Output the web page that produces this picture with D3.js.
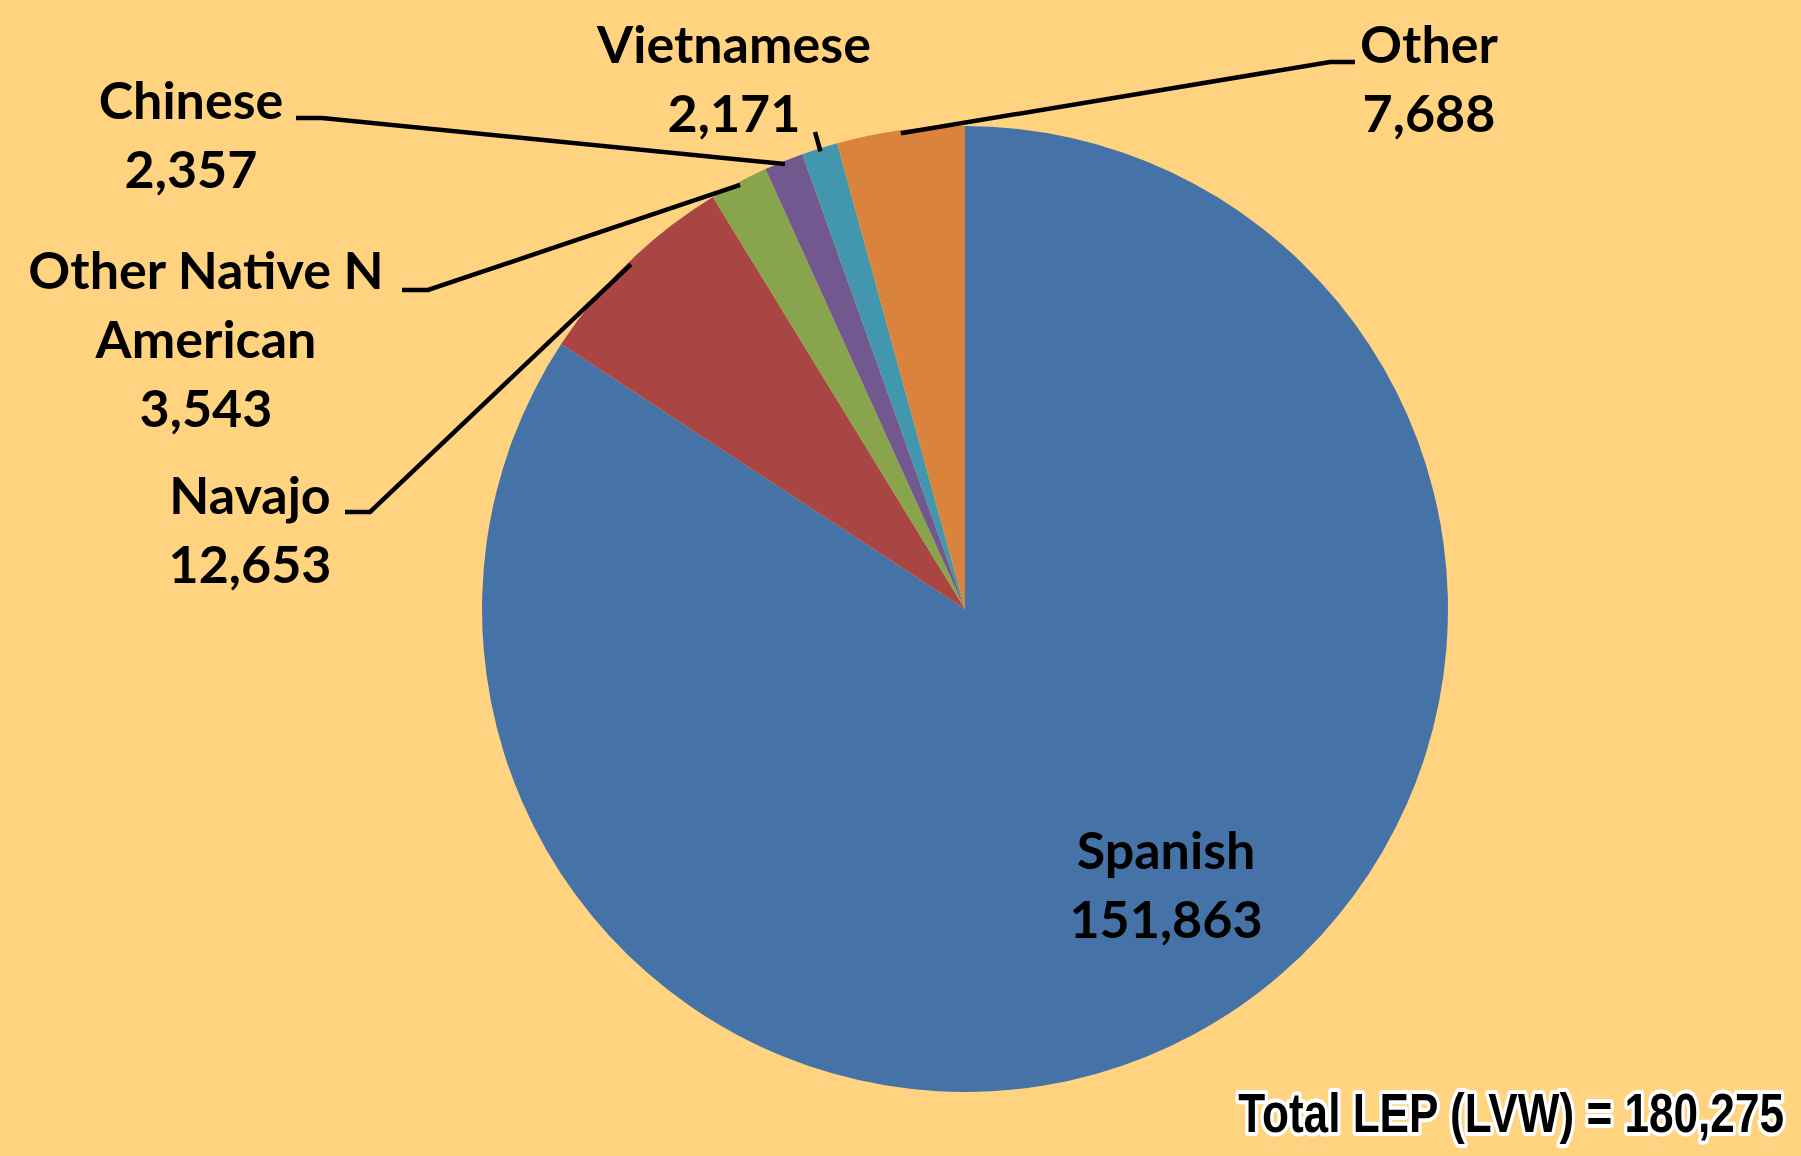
<!DOCTYPE html>
<html>
<head>
<meta charset="utf-8">
<script src="https://cdn.jsdelivr.net/npm/d3@7"></script>
<style>
  html, body { margin: 0; padding: 0; background: #FFD380; }
  svg { display: block; }
</style>
</head>
<body>
<div id="chart"></div>
<script>
/* Data */
var categories = ["Spanish", "Navajo", "Other Native N American", "Chinese", "Vietnamese", "Other"];
var values = [151863, 12653, 3543, 2357, 2171, 7688];
var nameLines = [["Spanish"], ["Navajo"], ["Other Native N", "American"], ["Chinese"], ["Vietnamese"], ["Other"]];
var totalLabel = "Total LEP (LVW) = 180,275";

var colors = ["#4673A7", "#A94644", "#88A54E", "#71588F", "#4297AF", "#DA833D"];

/* Layout */
var width = 1801, height = 1156;
var cx = 965, cy = 609, radius = 483;
var lineGap = 69;
// label anchor (centre x, first baseline) and leader line elbow/end for each slice
var labelPos = [
    { x: 1166, y: 869, leader: null },
    { x: 250, y: 514, leader: [[370, 512], [345, 512]] },
    { x: 206, y: 289, leader: [[428, 290], [402, 290]] },
    { x: 191, y: 119, leader: [[322, 118], [296, 118]] },
    { x: 734, y: 63, leader: [[815, 132]] },
    { x: 1429, y: 63, leader: [[1330, 62], [1355, 62]] }
];

var svg = d3.select("#chart").append("svg")
    .attr("width", width)
    .attr("height", height);

svg.append("rect")
    .attr("width", width)
    .attr("height", height)
    .attr("fill", "#FFD380");

var color = d3.scaleOrdinal().domain(categories).range(colors);

var pie = d3.pie().sort(null).value(function(d) { return d; });
var arcs = pie(values);

var arc = d3.arc().innerRadius(0).outerRadius(radius);
var edgeArc = d3.arc().innerRadius(radius - 3).outerRadius(radius - 3);

var g = svg.append("g").attr("transform", "translate(" + [cx, cy] + ")");

g.selectAll("path.slice")
    .data(arcs)
    .enter()
    .append("path")
    .attr("class", "slice")
    .attr("d", arc)
    .attr("fill", function(d, i) { return color(categories[i]); });

/* leader lines */
var line = d3.line();
svg.selectAll("path.leader")
    .data(arcs.filter(function(d, i) { return labelPos[i].leader; }))
    .enter()
    .append("path")
    .attr("class", "leader")
    .attr("d", function(d) {
        var i = d.index;
        var c = edgeArc.centroid(d);
        var pts = [[cx + c[0], cy + c[1]]].concat(labelPos[i].leader);
        return line(pts);
    })
    .attr("fill", "none")
    .attr("stroke", "#000")
    .attr("stroke-width", 4.5);

/* labels */
var fmt = d3.format(",");
var labels = svg.selectAll("text.label")
    .data(arcs)
    .enter()
    .append("text")
    .attr("class", "label")
    .attr("text-anchor", "middle")
    .style("font-family", "Lato, 'Open Sans', sans-serif")
    .style("font-weight", "700")
    .style("font-size", "52px")
    .attr("fill", "#000");

labels.each(function(d, i) {
    var t = d3.select(this);
    var lines = nameLines[i].concat([fmt(values[i])]);
    lines.forEach(function(s, k) {
        t.append("tspan")
            .attr("x", labelPos[i].x)
            .attr("y", labelPos[i].y + k * lineGap)
            .text(s);
    });
});

/* total - condensed by a horizontal scale so it fits like the narrow original */
var totalG = svg.append("g");
var total = totalG.append("text")
    .attr("x", 0)
    .attr("y", 0)
    .attr("text-anchor", "end")
    .style("font-family", "'Liberation Sans', Arial, sans-serif")
    .style("font-weight", "700")
    .style("font-size", "56px")
    .style("paint-order", "stroke")
    .attr("stroke", "#fff")
    .attr("stroke-width", 8)
    .attr("stroke-linejoin", "round")
    .attr("fill", "#000")
    .text(totalLabel);
var sx = 546 / total.node().getComputedTextLength();
totalG.attr("transform", "translate(1784,1132) scale(" + sx + ",1)");
</script>
</body>
</html>
